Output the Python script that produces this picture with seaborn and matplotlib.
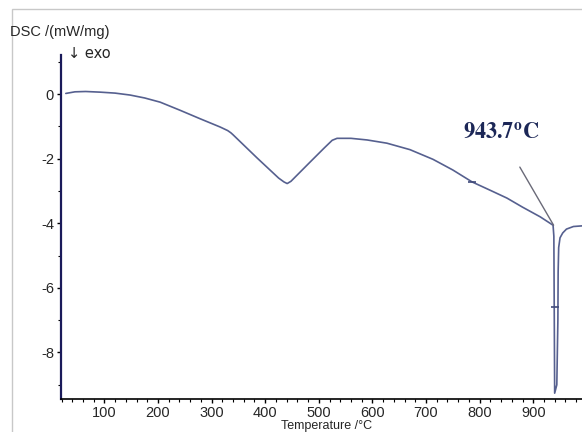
import matplotlib
matplotlib.use("Agg")
import matplotlib.pyplot as plt
import matplotlib.patches as mpatches
from matplotlib.ticker import MultipleLocator
import seaborn as sns
import pandas as pd

# DSC trace
temp = [28, 45, 65, 92, 120, 148, 175, 204, 241, 278, 316, 330, 336, 340,
        385, 425, 435, 441, 448, 460, 484, 510, 525, 534, 560, 590, 627,
        670, 713, 750, 786, 820, 851, 880, 913, 937, 938.5, 940, 944, 946,
        946.5, 947.5, 950, 955, 962, 975, 991]
dsc = [0.02, 0.07, 0.08, 0.06, 0.03, -0.03, -0.12, -0.25, -0.50, -0.76,
       -1.02, -1.13, -1.2, -1.26, -1.98, -2.6, -2.72, -2.77, -2.7, -2.5,
       -2.1, -1.67, -1.43, -1.37, -1.37, -1.42, -1.52, -1.72, -2.02,
       -2.35, -2.72, -2.98, -3.22, -3.5, -3.8, -4.06, -4.4, -9.26, -9.0,
       -7.0, -5.5, -4.75, -4.45, -4.3, -4.18, -4.1, -4.08]

# onset tangent line
tangent_T = [875, 938]
tangent_dsc = [-2.26, -4.06]

# small marks drawn on the curve
mark_T = [786, 940]
mark_dsc = [-2.72, -6.6]

onset_T = 840
onset_dsc = -1.21
onset_label = r"$\mathbf{943.7^{o}C}$"

df = pd.DataFrame({"T": temp, "dsc": dsc})

sns.set_style("white")
plt.rcParams["font.family"] = ["Liberation Sans", "DejaVu Sans"]
plt.rcParams["mathtext.fontset"] = "stix"
plt.rcParams["axes.unicode_minus"] = False

fig = plt.figure(figsize=(5.82, 4.32), dpi=100)
ax = fig.add_axes([61 / 582, 33 / 432, 521 / 582, 344 / 432])

sns.lineplot(data=df, x="T", y="dsc", sort=False, estimator=None,
             color="#56608f", lw=1.2, ax=ax)
ax.plot(tangent_T, tangent_dsc, color="#6a6a78", lw=1.0)
ax.plot(mark_T, mark_dsc, ls="none", marker="_", ms=6, mew=1.2, color="#404a7a")

ax.text(onset_T, onset_dsc, onset_label, color="#1c2757",
        fontsize=16, ha="center", va="center")

ax.set_xlim(19, 991)
ax.set_ylim(-9.44, 1.21)
ax.xaxis.set_major_locator(MultipleLocator(100))
ax.xaxis.set_minor_locator(MultipleLocator(20))
ax.yaxis.set_major_locator(MultipleLocator(2))
ax.yaxis.set_minor_locator(MultipleLocator(1))
ax.set_xticks(range(100, 1000, 100))
ax.set_yticks([0, -2, -4, -6, -8])

for side in ["top", "right"]:
    ax.spines[side].set_visible(False)
ax.spines["left"].set_color("#1a1a5a")
ax.spines["left"].set_linewidth(1.6)
ax.spines["bottom"].set_color("black")
ax.spines["bottom"].set_linewidth(1.2)

ax.tick_params(axis="both", which="major", direction="out", length=3,
               width=1, labelsize=10.5, pad=2, color="black",
               left=True, bottom=True)
ax.tick_params(axis="both", which="minor", direction="out", length=2,
               width=0.8, color="black", left=True, bottom=True)
ax.set_xlabel("")
ax.set_ylabel("")

fig.text(10 / 582, 1 - 32 / 432, "DSC /(mW/mg)", fontsize=10.5,
         ha="left", va="center")
fig.text(68 / 582, 1 - 54 / 432, "\u2193 exo", fontsize=10.5,
         ha="left", va="center", family=["DejaVu Sans"])
fig.text(327 / 582, 0.5 / 432, "Temperature /\u00b0C", fontsize=9,
         ha="center", va="bottom")

# light grey frame around the picture
fig.patches.append(mpatches.Rectangle((12 / 582, -0.1), 1.2, 1.1 - 9 / 432,
                                      transform=fig.transFigure, fill=False,
                                      edgecolor="#c8c8c8", lw=1.0))

fig.savefig("out.png", dpi=100)
